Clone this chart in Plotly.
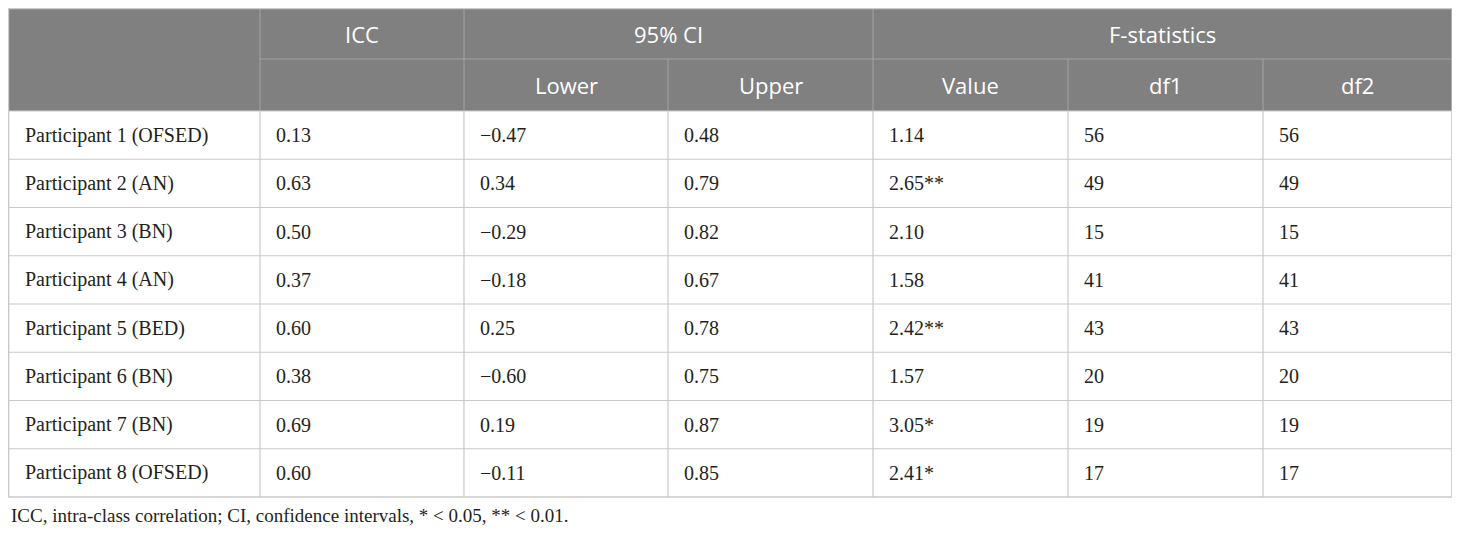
import plotly.graph_objects as go

# table data
participants = ["Participant 1 (OFSED)", "Participant 2 (AN)", "Participant 3 (BN)",
                "Participant 4 (AN)", "Participant 5 (BED)", "Participant 6 (BN)",
                "Participant 7 (BN)", "Participant 8 (OFSED)"]
icc = [0.13, 0.63, 0.50, 0.37, 0.60, 0.38, 0.69, 0.60]
ci_lower = [-0.47, 0.34, -0.29, -0.18, 0.25, -0.60, 0.19, -0.11]
ci_upper = [0.48, 0.79, 0.82, 0.67, 0.78, 0.75, 0.87, 0.85]
f_value = [1.14, 2.65, 2.10, 1.58, 2.42, 1.57, 3.05, 2.41]
f_sig = ["", "**", "", "", "**", "", "*", "*"]
df1 = [56, 49, 15, 41, 43, 20, 19, 17]
df2 = [56, 49, 15, 41, 43, 20, 19, 17]

top_headers = ["", "ICC", "95% CI", "F-statistics"]
sub_headers = ["", "", "Lower", "Upper", "Value", "df1", "df2"]
footnote = "ICC, intra-class correlation; CI, confidence intervals, * < 0.05, ** < 0.01."

# geometry, in page pixels (page body has an 8px margin)
W, H = 1460, 533
OFF = 8
col_edges = [8.6, 260, 464, 668, 873, 1068, 1263, 1452]
top_spans = [(0, 1), (1, 2), (2, 4), (4, 7)]   # column index ranges for first header row
head_y = [8.6, 59, 111]
row_h = 48.25
pad = 14

HEAD_FILL = "#808080"
HEAD_LINE = "#a3a3a3"
GRID = "#c9c9c9"
TEXT = "#231f20"
SANS = "Open Sans"
SERIF = "Liberation Serif"


def num(v):
    return f"{v:.2f}".replace("-", "\u2212")


rows = []
for i in range(len(participants)):
    rows.append([participants[i], num(icc[i]), num(ci_lower[i]), num(ci_upper[i]),
                 num(f_value[i]) + f_sig[i], str(df1[i]), str(df2[i])])

fig = go.Figure()
# invisible trace so the axes exist
fig.add_trace(go.Scatter(x=[OFF, W], y=[OFF, H], mode="markers",
                         marker=dict(opacity=0), hoverinfo="skip", showlegend=False))

shapes = []
annotations = []

# header background
shapes.append(dict(type="rect", x0=col_edges[0], x1=col_edges[-1], y0=head_y[0], y1=head_y[2],
                   fillcolor=HEAD_FILL, line=dict(width=0), layer="below"))

# header row 1 cells
for (a, b), label in zip(top_spans, top_headers):
    x0, x1 = col_edges[a], col_edges[b]
    if a > 0:
        shapes.append(dict(type="line", x0=x0, x1=x0, y0=head_y[0], y1=head_y[2],
                           line=dict(color=HEAD_LINE, width=1)))
    if label:
        annotations.append(dict(x=(x0 + x1) / 2, y=(head_y[0] + head_y[1]) / 2, text=label,
                                showarrow=False, xanchor="center", yanchor="middle",
                                font=dict(family=SANS, size=22, color="white")))
        # line below the spanning header
        shapes.append(dict(type="line", x0=x0, x1=x1, y0=head_y[1], y1=head_y[1],
                           line=dict(color=HEAD_LINE, width=1)))

# header row 2 cells
for j, label in enumerate(sub_headers):
    x0, x1 = col_edges[j], col_edges[j + 1]
    if j in (3, 5, 6):
        shapes.append(dict(type="line", x0=x0, x1=x0, y0=head_y[1], y1=head_y[2],
                           line=dict(color=HEAD_LINE, width=1)))
    if label:
        annotations.append(dict(x=(x0 + x1) / 2, y=(head_y[1] + head_y[2]) / 2, text=label,
                                showarrow=False, xanchor="center", yanchor="middle",
                                font=dict(family=SANS, size=22, color="white")))

# body grid
body_top = head_y[2]
body_bot = body_top + row_h * len(rows)
for i in range(len(rows) + 1):
    y = body_top + row_h * i
    shapes.append(dict(type="line", x0=col_edges[0], x1=col_edges[-1], y0=y, y1=y,
                       line=dict(color=GRID, width=1.2)))
for x in col_edges:
    shapes.append(dict(type="line", x0=x, x1=x, y0=body_top, y1=body_bot,
                       line=dict(color=GRID, width=1.2)))
# outer border
shapes.append(dict(type="rect", x0=col_edges[0], x1=col_edges[-1], y0=head_y[0], y1=body_bot,
                   line=dict(color=GRID, width=1.2), fillcolor="rgba(0,0,0,0)"))

# body text
for i, row in enumerate(rows):
    yc = body_top + row_h * (i + 0.5)
    for j, txt in enumerate(row):
        annotations.append(dict(x=col_edges[j] + pad, y=yc, text=txt, showarrow=False,
                                xanchor="left", yanchor="middle",
                                font=dict(family=SERIF, size=20, color=TEXT)))

# footnote
annotations.append(dict(x=OFF + 0.5, y=515, text=footnote, showarrow=False,
                        xanchor="left", yanchor="middle",
                        font=dict(family=SERIF, size=19, color=TEXT)))

fig.update_layout(
    width=W - OFF - 4, height=H - 2 * OFF,
    margin=dict(l=0, r=0, t=0, b=0),
    paper_bgcolor="white", plot_bgcolor="white",
    xaxis=dict(range=[OFF, W - 4], visible=False, fixedrange=True),
    yaxis=dict(range=[H - OFF, OFF], visible=False, fixedrange=True),
    shapes=shapes, annotations=annotations,
)

fig.write_html("out.html")
